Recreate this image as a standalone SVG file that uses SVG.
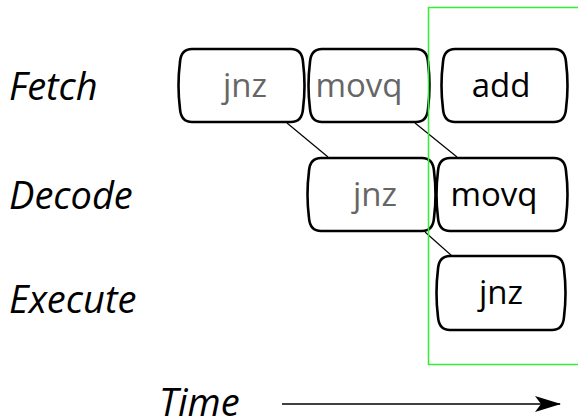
<svg xmlns="http://www.w3.org/2000/svg" width="578" height="420" viewBox="0 0 578 420">
<defs>
<style>
.box{fill:#fff;stroke:#000;stroke-width:2.6}
.lbl{font-family:"Open Sans","DejaVu Sans",sans-serif;font-style:italic;font-size:38px;fill:#000}
.t{font-family:"Open Sans","DejaVu Sans",sans-serif;font-size:33px;text-anchor:middle}
.old{fill:#666}
.cur{fill:#000}
.conn{stroke:#000;stroke-width:1.2;fill:none}
</style>
<marker id="ah" viewBox="0 0 26 16" refX="25" refY="8" markerWidth="26" markerHeight="16" markerUnits="userSpaceOnUse" orient="auto">
<path d="M0,0 L26,8 L0,16 L6,8 Z" fill="#000"/>
</marker>
</defs>
<text class="lbl" x="9" y="100">Fetch</text>
<text class="lbl" x="9" y="209">Decode</text>
<text class="lbl" x="9" y="313">Execute</text>
<text class="lbl" x="159" y="416">Time</text>
<g id="connectors">
<line class="conn" x1="287" y1="123" x2="328" y2="157"/>
<line class="conn" x1="415" y1="123" x2="457" y2="157"/>
<line class="conn" x1="425" y1="232" x2="452" y2="256"/>
<line stroke="#000" stroke-width="1.5" x1="282" y1="404" x2="560" y2="404" marker-end="url(#ah)"/>
</g>
<g id="fetch-jnz">
<path class="box" d="M192,49 H291 Q302,49 303,62 Q306,85.5 303,109 Q302,122 291,122 H192 Q181,122 180,109 Q177,85.5 180,62 Q181,49 192,49 Z"/>
<text class="t old" x="245" y="97">jnz</text>
</g>
<g id="fetch-movq">
<path class="box" d="M322,49 H416 Q427,49 428,62 Q431,85.5 428,109 Q427,122 416,122 H322 Q311,122 310,109 Q307,85.5 310,62 Q311,49 322,49 Z"/>
<text class="t old" x="359" y="97">movq</text>
</g>
<g id="fetch-add">
<path class="box" d="M455,49 H554 Q565,49 566,62 Q569,85.5 566,109 Q565,122 554,122 H455 Q444,122 443,109 Q440,85.5 443,62 Q444,49 455,49 Z"/>
<text class="t cur" x="501" y="97">add</text>
</g>
<g id="decode-jnz">
<path class="box" d="M321,158 H422 Q433,158 434,171 Q437,194.5 434,218 Q433,231 422,231 H321 Q310,231 309,218 Q306,194.5 309,171 Q310,158 321,158 Z"/>
<text class="t old" x="375" y="206">jnz</text>
</g>
<g id="decode-movq">
<path class="box" d="M450,158 H554 Q565,158 566,171 Q569,194.5 566,218 Q565,231 554,231 H450 Q439,231 438,218 Q435,194.5 438,171 Q439,158 450,158 Z"/>
<text class="t cur" x="494" y="206">movq</text>
</g>
<g id="execute-jnz">
<path class="box" d="M450,256 H552 Q563,256 564,269 Q567,293 564,317 Q563,330 552,330 H450 Q439,330 438,317 Q435,293 438,269 Q439,256 450,256 Z"/>
<text class="t cur" x="501" y="304">jnz</text>
</g>
<rect id="window" x="428.5" y="7.5" width="160" height="357" fill="none" stroke="#3e3" stroke-width="1.5"/>
</svg>
